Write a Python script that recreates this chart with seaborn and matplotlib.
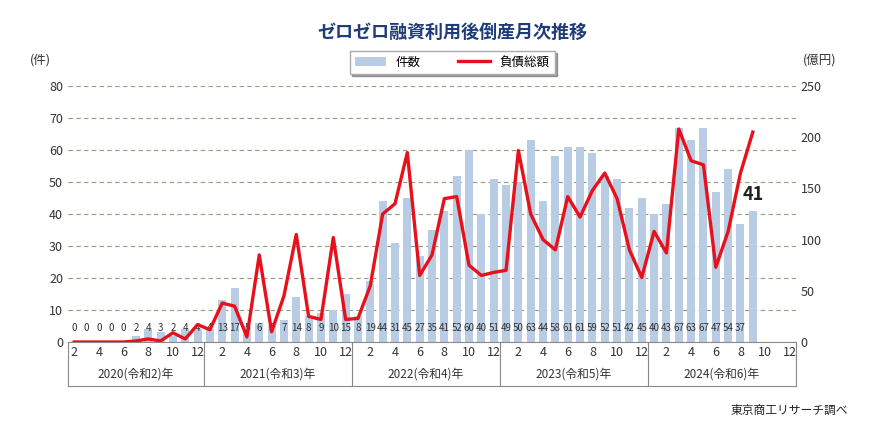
import matplotlib
matplotlib.use("Agg")
import matplotlib.pyplot as plt
import matplotlib.transforms as mtransforms
import numpy as np
import pandas as pd
import seaborn as sns

plt.rcParams["font.family"] = "Noto Sans CJK JP"

# Feb 2020 .. Dec 2024 (monthly)
years = ["2020(令和2)年", "2021(令和3)年", "2022(令和4)年", "2023(令和5)年", "2024(令和6)年"]
counts = [0, 0, 0, 0, 0, 2, 4, 3, 2, 4, 4,
          4, 13, 17, 5, 6, 5, 7, 14, 8, 9, 10, 15,
          8, 19, 44, 31, 45, 27, 35, 41, 52, 60, 40, 51,
          49, 50, 63, 44, 58, 61, 61, 59, 52, 51, 42, 45,
          40, 43, 67, 63, 67, 47, 54, 37, 41]
debt = [0, 0, 0, 0, 0, 1, 3, 1, 9, 3, 17,
        12, 38, 35, 5, 85, 10, 45, 105, 25, 22, 102, 22,
        23, 55, 125, 135, 185, 65, 85, 140, 142, 75, 65, 68,
        70, 187, 125, 100, 90, 142, 122, 148, 165, 140, 90, 63,
        108, 87, 208, 177, 173, 73, 108, 165, 205]

n_total = 59
months = [(i + 1) % 12 + 1 for i in range(n_total)]
cats = [f"c{i}" for i in range(n_total)]
df = pd.DataFrame({"cat": cats[:len(counts)], "count": counts})

fig = plt.figure(figsize=(8.74, 4.33), dpi=100)
ax = fig.add_axes([68 / 874, 1 - 342 / 433, 728 / 874, 256 / 433])
sns.barplot(data=df, x="cat", y="count", order=cats, color="#b8cce4",
            saturation=1, width=0.65, ax=ax, label="件数")
if ax.get_legend() is not None:
    ax.get_legend().remove()
ax.set_xlim(-0.5, n_total - 0.5)
ax.set_ylim(0, 80)
ax.set_yticks(range(0, 81, 10))
ax.yaxis.grid(True, linestyle=(0, (4, 3)), color="#9a9a70", linewidth=0.8)
ax.set_axisbelow(True)
for s in ["top", "right", "left"]:
    ax.spines[s].set_visible(False)
ax.spines["bottom"].set_color("#888888")
ax.tick_params(axis="y", length=0, labelsize=9, colors="#333333")
ax.set_xticks(range(n_total))
ax.set_xticklabels([str(m) if m % 2 == 0 else "" for m in months], fontsize=9, color="#333333")
ax.tick_params(axis="x", length=0, pad=3)
ax.set_xlabel("")
ax.set_ylabel("")

# count labels
for i, c in enumerate(counts[:-1]):
    ax.text(i, 4.4, str(c), ha="center", va="center", fontsize=7, color="#333333")
ax.text(len(counts) - 1, 46, str(counts[-1]), ha="center", va="center",
        fontsize=13, fontweight="bold", color="#222222")

# year group boxes
trans = mtransforms.blended_transform_factory(ax.transData, ax.transAxes)
bounds = [-0.5, 10.5, 22.5, 34.5, 46.5, 58.5]
for b in bounds:
    ax.plot([b, b], [0, -0.17], transform=trans, color="#888888", lw=0.8, clip_on=False)
ax.plot([bounds[0], bounds[-1]], [-0.17, -0.17], transform=trans, color="#888888", lw=0.8, clip_on=False)
for y, a, b in zip(years, bounds[:-1], bounds[1:]):
    ax.text((a + b) / 2, -0.125, y, transform=trans, ha="center", va="center",
            fontsize=8.5, color="#333333")

ax2 = ax.twinx()
sns.lineplot(x=np.arange(len(debt)), y=debt, color="#e8101a", lw=2.4, ax=ax2, label="負債総額")
ax2.set_ylim(0, 250)
ax2.set_yticks(range(0, 251, 50))
for s in ["top", "right", "left", "bottom"]:
    ax2.spines[s].set_visible(False)
ax2.tick_params(axis="y", length=0, labelsize=9, colors="#333333")
h2, l2 = ax2.get_legend_handles_labels()
ax2.legend_.remove()

h1, l1 = ax.get_legend_handles_labels()
fig.legend(h1[:1] + h2, l1[:1] + l2, loc="center", bbox_to_anchor=(452 / 874, 1 - 62 / 433),
           ncol=2, fontsize=9, frameon=True, fancybox=False, shadow=True,
           edgecolor="#aaaaaa", handlelength=2.5, columnspacing=3, borderpad=0.4)

fig.text(452 / 874, 1 - 32 / 433, "ゼロゼロ融資利用後倒産月次推移", ha="center", va="center",
         fontsize=13, fontweight="bold", color="#1f3c78")
fig.text(40 / 874, 1 - 60 / 433, "(件)", ha="center", va="center", fontsize=9, color="#333333")
fig.text(820 / 874, 1 - 60 / 433, "(億円)", ha="center", va="center", fontsize=9, color="#333333")
fig.text(848 / 874, 1 - 410 / 433, "東京商工リサーチ調べ", ha="right", va="center", fontsize=8.5, color="#222222")

fig.savefig("out.png", dpi=100)
